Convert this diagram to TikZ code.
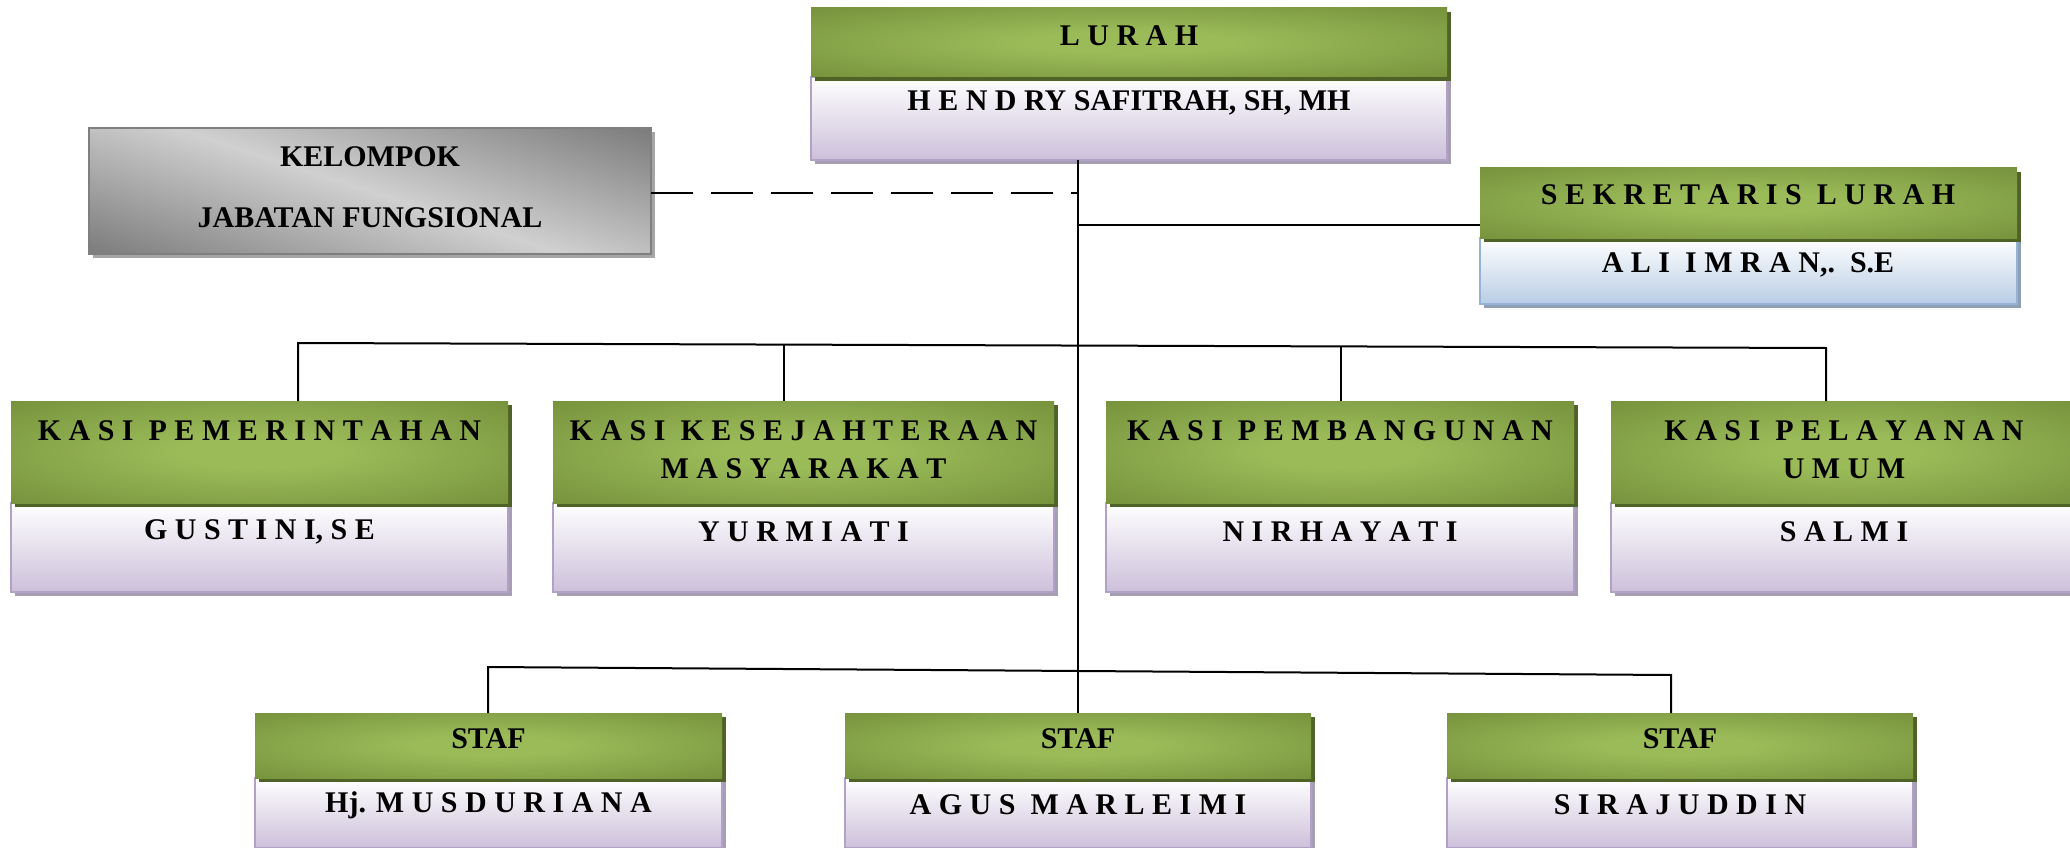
\documentclass[tikz,border=0pt]{standalone}
\usepackage{fontspec}
\setmainfont{Liberation Serif}
\usetikzlibrary{shadows}

\definecolor{oliveDark}{HTML}{76923C}
\definecolor{oliveLight}{HTML}{9BBB59}
\definecolor{oliveShade}{HTML}{4F6228}
\definecolor{lavBot}{HTML}{CCC0DA}
\definecolor{lavEdge}{HTML}{B2A1C7}
\definecolor{lavShade}{HTML}{A69FB3}
\definecolor{skyBot}{HTML}{B9CDE5}
\definecolor{skyEdge}{HTML}{95B3D7}
\definecolor{skyShade}{HTML}{8FA0B5}
\definecolor{greyDark}{HTML}{6A6A6A}
\definecolor{greyLight}{HTML}{D0D0D0}
\definecolor{greyEdge}{HTML}{7F7F7F}
\definecolor{greyShade}{HTML}{A5A5A5}

% wider gap between letter-spaced words
\newcommand{\wordgap}{\hspace{0.5em}}

\pgfdeclareradialshading{olivebulb}{\pgfpoint{0bp}{0bp}}{%
  color(0bp)=(oliveLight); color(8bp)=(oliveLight);
  color(36bp)=(oliveDark); color(50bp)=(oliveDark)}
\pgfdeclareverticalshading{greysweep}{100bp}{%
  color(0bp)=(greyDark); color(12bp)=(greyDark); color(50bp)=(greyLight);
  color(88bp)=(greyDark); color(100bp)=(greyDark)}

\tikzset{
  every node/.style={inner sep=0pt, outer sep=0pt},
  boxbase/.style={rectangle, anchor=north west},
  titlebox/.style={boxbase, shading=olivebulb,
    drop shadow={shadow xshift=4pt, shadow yshift=-4pt, fill=oliveShade, opacity=1}},
  namebox/.style={boxbase, draw=lavEdge, line width=2pt,
    top color=white, bottom color=lavBot,
    drop shadow={shadow xshift=4pt, shadow yshift=-4pt, fill=lavShade, opacity=1}},
  skybox/.style={boxbase, draw=skyEdge, line width=2pt,
    top color=white, bottom color=skyBot,
    drop shadow={shadow xshift=4pt, shadow yshift=-4pt, fill=skyShade, opacity=1}},
  greybox/.style={boxbase, draw=greyEdge, line width=2pt,
    shading=greysweep, shading angle=162,
    drop shadow={shadow xshift=4pt, shadow yshift=-4pt, fill=greyShade, opacity=1}},
  lbl/.style={font=\fontsize{30}{36}\selectfont\bfseries, align=center, text=black},
  link/.style={line width=2pt, black},
  dashlink/.style={link, dash pattern=on 42pt off 18pt},
}

\begin{document}
\begin{tikzpicture}[x=1pt, y=-1pt]
\useasboundingbox (0,0) rectangle (2070,848);

% ---------- boxes: name part first, title part on top ----------
% Lurah
\node[namebox, minimum width=636, minimum height=83] (lurahN) at (811,77) {};
\node[titlebox, minimum width=636, minimum height=69] (lurahT) at (811,8) {};
% Kelompok jabatan fungsional
\node[greybox, minimum width=562, minimum height=126] (kel) at (89,128) {};
% Sekretaris
\node[skybox, minimum width=537, minimum height=66] (sekN) at (1480,238) {};
\node[titlebox, minimum width=537, minimum height=70] (sekT) at (1480,168) {};
% Kepala seksi
\node[namebox, minimum width=497, minimum height=89] (k1n) at (11,503) {};
\node[titlebox, minimum width=497, minimum height=102] (k1t) at (11,401) {};
\node[namebox, minimum width=501, minimum height=89] (k2n) at (553,503) {};
\node[titlebox, minimum width=501, minimum height=102] (k2t) at (553,401) {};
\node[namebox, minimum width=468, minimum height=89] (k3n) at (1106,503) {};
\node[titlebox, minimum width=468, minimum height=102] (k3t) at (1106,401) {};
\node[namebox, minimum width=467, minimum height=89] (k4n) at (1611,503) {};
\node[titlebox, minimum width=467, minimum height=102] (k4t) at (1611,401) {};
% Staf
\node[namebox, minimum width=467, minimum height=70] (s1n) at (255,778) {};
\node[titlebox, minimum width=467, minimum height=65] (s1t) at (255,713) {};
\node[namebox, minimum width=466, minimum height=70] (s2n) at (845,778) {};
\node[titlebox, minimum width=466, minimum height=65] (s2t) at (845,713) {};
\node[namebox, minimum width=466, minimum height=70] (s3n) at (1447,778) {};
\node[titlebox, minimum width=466, minimum height=65] (s3t) at (1447,713) {};

% ---------- texts ----------
\node[lbl] (lurahA) at (1129,36) {L U R A H};
\node[lbl] (lurahB) at (1129,103) {H E N D RY SAFITRAH, SH, MH};
\node[lbl] (kelA) at (370,157) {KELOMPOK};
\node[lbl] (kelB) at (370,218) {JABATAN FUNGSIONAL};
\node[lbl] (sekA) at (1748,195) {S E K R E T A R I S\wordgap L U R A H};
\node[lbl] (sekB) at (1748,265) {A L I\wordgap I M R A N,.\wordgap S.E};

\node[lbl] (k1a) at (259.5,431) {K A S I\wordgap P E M E R I N T A H A N};
\node[lbl] (k1b) at (259.5,532) {G U S T I N I, S E};
\node[lbl] (k2a) at (803.5,431) {K A S I\wordgap K E S E J A H T E R A A N};
\node[lbl] (k2c) at (803.5,469) {M A S Y A R A K A T};
\node[lbl] (k2b) at (803.5,532) {Y U R M I A T I};
\node[lbl] (k3a) at (1340,431) {K A S I\wordgap P E M B A N G U N A N};
\node[lbl] (k3b) at (1340,532) {N I R H A Y A T I};
\node[lbl] (k4a) at (1844,431) {K A S I\wordgap P E L A Y A N A N};
\node[lbl] (k4c) at (1844,469) {U M U M};
\node[lbl] (k4b) at (1844,532) {S A L M I};

\node[lbl] (s1a) at (488.5,739) {STAF};
\node[lbl] (s1b) at (488.5,805) {Hj. M U S D U R I A N A};
\node[lbl] (s2a) at (1078,739) {STAF};
\node[lbl] (s2b) at (1078,805) {A G U S\wordgap M A R L E I M I};
\node[lbl] (s3a) at (1680,739) {STAF};
\node[lbl] (s3b) at (1680,805) {S I R A J U D D I N};

% ---------- connectors ----------
% main trunk from the Lurah down to the middle staff box
\draw[link] (s2t.north) -- (s2t.north |- lurahN.south);
% functional group (dashed)
\coordinate (kelJoin) at (651,193);
\draw[dashlink] (kelJoin -| kel.east) -- (kelJoin -| s2t.north);
% secretary
\coordinate (sekJoin) at (1078,225);
\draw[link] (sekJoin) -- (sekJoin -| sekT.west);
% section heads bus
\coordinate (busA) at (298,343);
\coordinate (busB) at (784,345);
\coordinate (busC) at (1341,346);
\coordinate (busD) at (1826,348);
\draw[link] (busA |- k1t.north) -- (busA) -- (busD) -- (busD |- k4t.north);
\draw[link] (busB) -- (busB |- k2t.north);
\draw[link] (busC) -- (busC |- k3t.north);
% staff bus
\coordinate (stA) at (488,667);
\coordinate (stB) at (1671,675);
\draw[link] (stA |- s1t.north) -- (stA) -- (stB) -- (stB |- s3t.north);
\end{tikzpicture}
\end{document}
